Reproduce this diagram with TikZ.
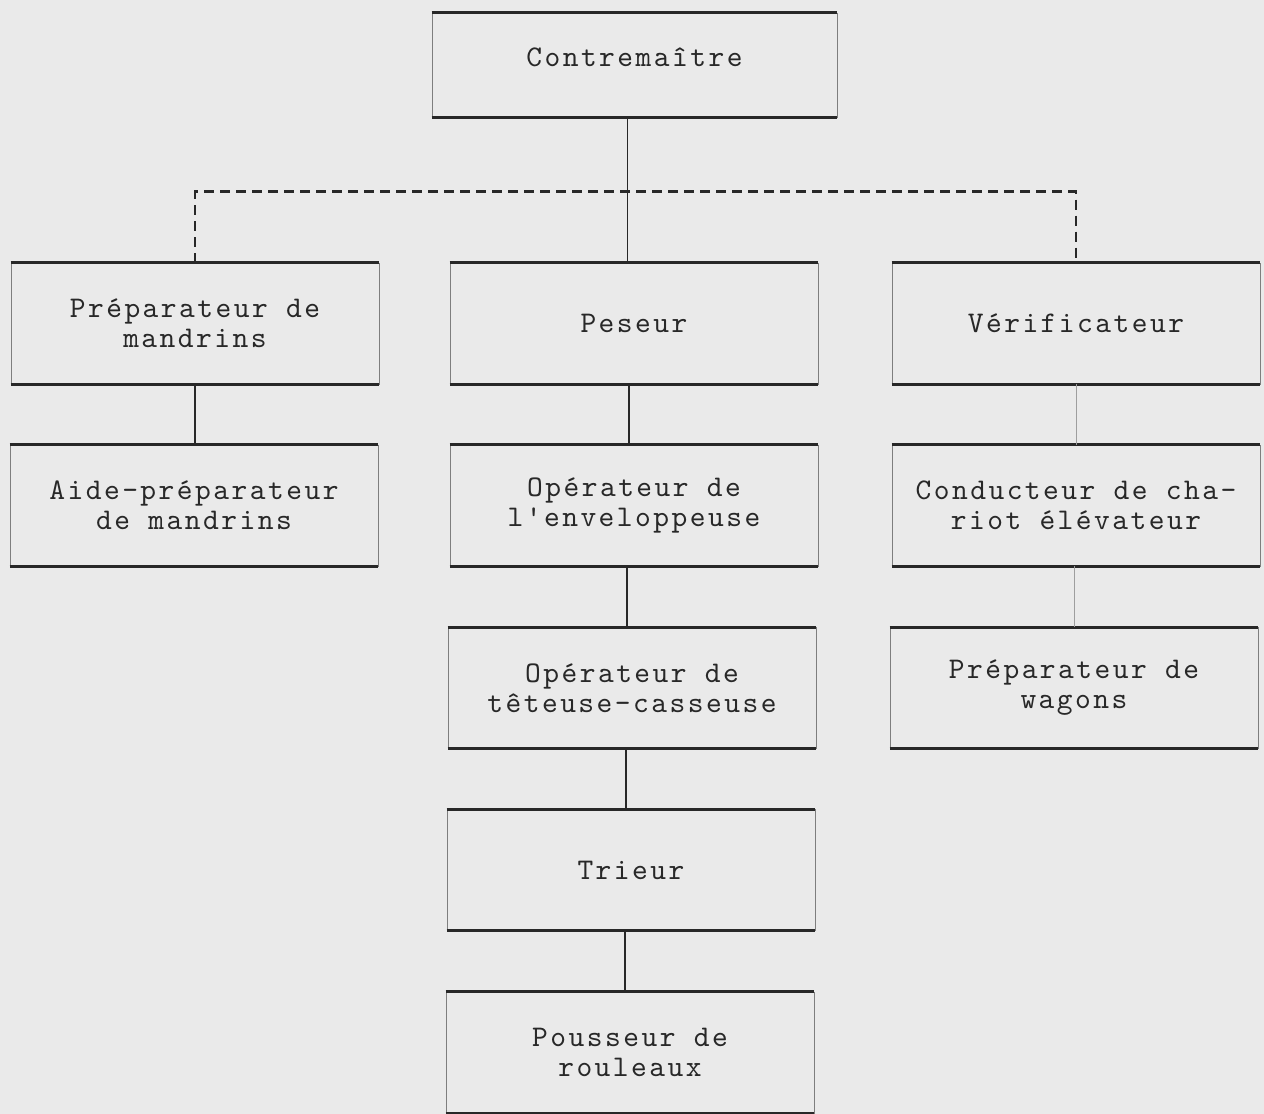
\documentclass[tikz,border=0pt]{standalone}
\usepackage{fontspec}
\newfontfamily\machine{lmmono10-regular.otf}[LetterSpace=8.3]
\definecolor{papier}{RGB}{234,234,234}
\definecolor{encre}{RGB}{40,40,40}
\tikzset{
poste/.style={
  rectangle,
  draw=encre!60,
  line width=0.35pt,
  minimum width=184pt,
  minimum height=60.5pt,
  inner sep=0pt,
  align=center,
  text=encre,
  font=\machine\fontsize{15}{15}\selectfont,
  append after command={
    (\tikzlastnode.north west) edge[trait] (\tikzlastnode.north east)
    (\tikzlastnode.south west) edge[trait] (\tikzlastnode.south east)}
},
trait/.style={draw=encre, line width=1.4pt},
lien/.style={draw=encre, line width=0.9pt},
pointille/.style={draw=encre, line width=1.3pt, dash pattern=on 5pt off 3pt},
lienpale/.style={draw=encre!45, line width=0.35pt}
}
\begin{document}
\begin{tikzpicture}[x=0.5pt,y=-0.5pt]
\fill[papier] (0,0) rectangle (1264,1114);
\useasboundingbox (0,0) rectangle (1264,1114);
% the boxes
\node[poste, minimum width=202.5pt, minimum height=52pt, text depth=8pt] (chef) at (634.5,65) {Contrema\^{\i}tre};
\node[poste] (prep) at (195,323.5) {Préparateur de\\mandrins};
\node[poste] (peseur) at (634,323.5) {Peseur};
\node[poste] (verif) at (1076,323.5) {Vérificateur};
\node[poste] (aide) at (194,505.5) {Aide-préparateur\\de mandrins};
\node[poste] (envel) at (634,505.5) {Opérateur de\\l'enveloppeuse};
\node[poste] (chariot) at (1076,505.5) {Conducteur de cha-\\riot élévateur};
\node[poste] (teteuse) at (632,688) {Opérateur de\\têteuse-casseuse};
\node[poste] (wagons) at (1074,688) {Préparateur de\\wagons};
\node[poste] (trieur) at (631,870) {Trieur};
\node[poste] (pousseur) at (630,1052.5) {Pousseur de\\rouleaux};
% the links
\draw[lien] (chef.south) ++(-7,0) coordinate (haut) -- (haut |- peseur.north);
\draw[pointille] (prep.north) -- ++(0,-71) -| (verif.north);
\draw[lien] (prep.south) -- (prep.south |- aide.north);
\foreach \a/\b in {peseur/envel,envel/teteuse,teteuse/trieur,trieur/pousseur}
  \draw[lien] (\b.north) ++(-5,0) coordinate (bas) -- (bas |- \a.south);
\draw[lienpale] (verif.south) -- (verif.south |- chariot.north);
\draw[lienpale] (wagons.north) -- (wagons.north |- chariot.south);
\end{tikzpicture}
\end{document}
